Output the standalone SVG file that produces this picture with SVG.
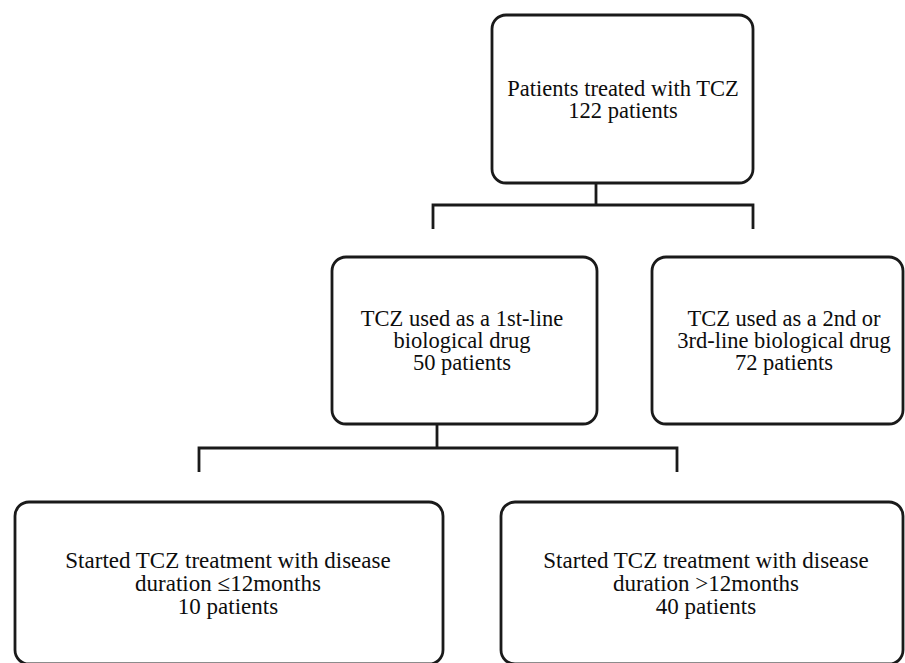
<svg xmlns="http://www.w3.org/2000/svg" width="905" height="663" viewBox="0 0 905 663">
<style>
.box{fill:#fff;stroke:#1a1a1a;stroke-width:2.8}
.con{fill:none;stroke:#1a1a1a;stroke-width:2.8}
.lbl{font-family:'Liberation Serif','Times New Roman',serif;font-size:22.5px;fill:#0d0d0d;text-anchor:middle}
.big{font-size:23px}
</style>
<rect width="905" height="663" fill="#fff"/>
<g id="connectors">
<path class="con" d="M596,183 V205 M433,229 V205 H753 V229"/>
<path class="con" d="M437,424 V448 M199,472 V448 H677 V472"/>
</g>
<g id="n-top">
<rect class="box" x="492" y="15" width="261" height="168" rx="14"/>
<text class="lbl"><tspan x="623" y="96">Patients treated with TCZ</tspan><tspan x="623" y="118">122 patients</tspan></text>
</g>
<g id="n-first">
<rect class="box" x="332" y="257" width="265" height="167" rx="14"/>
<text class="lbl"><tspan x="462" y="326">TCZ used as a 1st-line</tspan><tspan x="462" y="348">biological drug</tspan><tspan x="462" y="370">50 patients</tspan></text>
</g>
<g id="n-second">
<rect class="box" x="652" y="257" width="251" height="167" rx="14"/>
<text class="lbl"><tspan x="784" y="326">TCZ used as a 2nd or</tspan><tspan x="784" y="348">3rd-line biological drug</tspan><tspan x="784" y="370">72 patients</tspan></text>
</g>
<g id="n-early">
<rect class="box" x="15" y="502" width="428" height="162" rx="14"/>
<text class="lbl big"><tspan x="228" y="568">Started TCZ treatment with disease</tspan><tspan x="228" y="591">duration ≤12months</tspan><tspan x="228" y="614">10 patients</tspan></text>
</g>
<g id="n-late">
<rect class="box" x="501" y="502" width="402" height="162" rx="14"/>
<text class="lbl big"><tspan x="706" y="568">Started TCZ treatment with disease</tspan><tspan x="706" y="591">duration &gt;12months</tspan><tspan x="706" y="614">40 patients</tspan></text>
</g>
</svg>
